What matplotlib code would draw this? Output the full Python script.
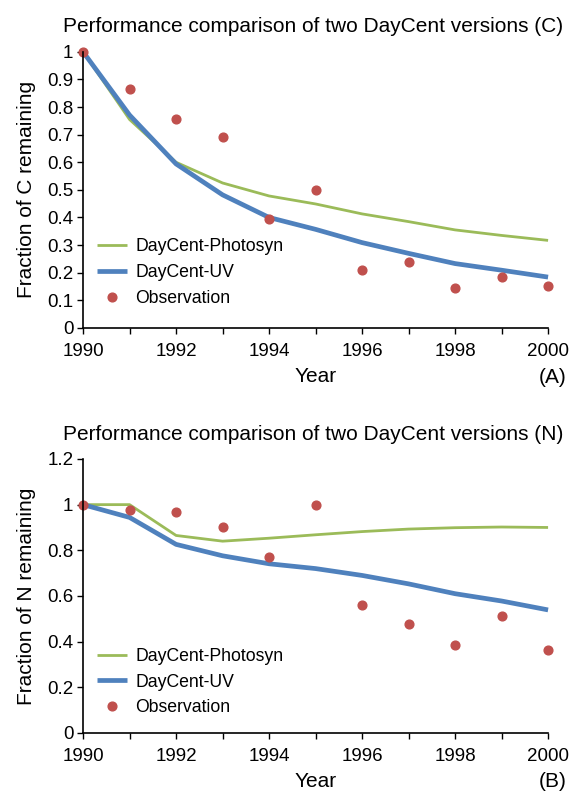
import numpy as np
import matplotlib
matplotlib.use('Agg')
from matplotlib import pyplot as plt
from matplotlib.ticker import FixedLocator, MultipleLocator, FormatStrFormatter

plt.rcParams['font.family'] = ['Liberation Sans', 'DejaVu Sans']

years = [1990, 1991, 1992, 1993, 1994, 1995, 1996, 1997, 1998, 1999, 2000]

# carbon (panel A)
c_photosyn = [1.0, 0.755, 0.60, 0.525, 0.478, 0.449, 0.413, 0.385, 0.355, 0.335, 0.317]
c_uv = [1.0, 0.771, 0.594, 0.482, 0.400, 0.357, 0.309, 0.270, 0.233, 0.209, 0.184]
c_obs = [1.0, 0.866, 0.756, 0.690, 0.396, 0.500, 0.210, 0.237, 0.144, 0.186, 0.152]

# nitrogen (panel B)
n_photosyn = [1.0, 1.0, 0.865, 0.840, 0.853, 0.868, 0.882, 0.893, 0.899, 0.902, 0.900]
n_uv = [1.0, 0.944, 0.826, 0.776, 0.741, 0.720, 0.690, 0.653, 0.610, 0.578, 0.539]
n_obs = [1.0, 0.978, 0.968, 0.904, 0.770, 0.997, 0.562, 0.478, 0.387, 0.514, 0.362]

GREEN = '#9bbb59'
BLUE = '#4f81bd'
RED = '#c0504d'


def draw_panel(ax, photosyn, uv, obs, ymax, ystep, title, ylabel, tag, legend_y):
    ax.plot(years, photosyn, color=GREEN, lw=2.0, label='DayCent-Photosyn', solid_capstyle='butt')
    ax.plot(years, uv, color=BLUE, lw=3.4, label='DayCent-UV', solid_capstyle='butt')
    ax.plot(years, obs, ls='none', marker='o', ms=6.3, color=RED, mec=RED, label='Observation')

    ax.set_xlim(1990, 2000)
    ax.set_ylim(0, ymax)
    ax.xaxis.set_major_locator(MultipleLocator(2))
    ax.xaxis.set_minor_locator(MultipleLocator(1))
    ax.yaxis.set_major_locator(FixedLocator(np.arange(0, ymax + 1e-9, ystep)))
    ax.yaxis.set_major_formatter(FormatStrFormatter('%g'))
    ax.tick_params(axis='both', which='both', direction='out', labelsize=13.5, width=1.0, color='black')
    ax.tick_params(axis='x', which='both', length=4, pad=7)
    ax.tick_params(axis='y', length=4, pad=3)

    for side in ['top', 'right']:
        ax.spines[side].set_visible(False)
    for side in ['left', 'bottom']:
        ax.spines[side].set_linewidth(1.2)

    ax.set_title(title, fontsize=15, pad=14, x=0.495)
    ax.set_ylabel(ylabel, fontsize=15, labelpad=8)
    ax.set_xlabel('Year', fontsize=15, labelpad=5)
    ax.text(1.04, -0.178, tag, transform=ax.transAxes, fontsize=15, ha='right', va='center')

    ax.legend(loc='center left', bbox_to_anchor=(0.012, legend_y), frameon=False, fontsize=12.7,
              handlelength=1.7, handletextpad=0.45, labelspacing=0.5, borderpad=0)


fig = plt.figure(figsize=(5.73, 7.92), dpi=100)
ax_c = fig.add_axes([0.145, 0.586, 0.8115, 0.3485])
ax_n = fig.add_axes([0.145, 0.0745, 0.8115, 0.346])

draw_panel(ax_c, c_photosyn, c_uv, c_obs, 1.0, 0.1,
           'Performance comparison of two DayCent versions (C)', 'Fraction of C remaining', '(A)', 0.2)
draw_panel(ax_n, n_photosyn, n_uv, n_obs, 1.2, 0.2,
           'Performance comparison of two DayCent versions (N)', 'Fraction of N remaining', '(B)', 0.186)

for ax in (ax_c, ax_n):
    for line in ax.lines:
        line.set_clip_on(False)

fig.savefig('out.png', dpi=100)
